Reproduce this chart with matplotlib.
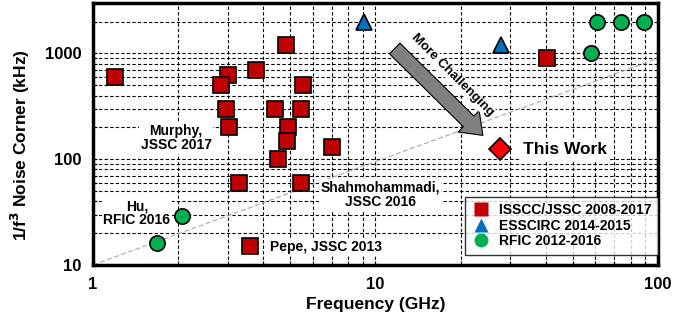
import matplotlib.pyplot as plt
from matplotlib.ticker import LogLocator, NullFormatter, FixedLocator
from matplotlib.lines import Line2D

plt.rcParams['font.family'] = ['Liberation Sans', 'DejaVu Sans']
plt.rcParams['font.weight'] = 'bold'

# ISSCC/JSSC 2008-2017 (red squares)
isscc_freq = [1.2, 3.0, 2.84, 2.95, 3.03, 3.78, 4.82, 5.54, 4.41, 5.45, 4.9, 4.87, 4.52, 7.0, 3.29, 5.45, 3.6, 40.5]
isscc_corner = [600, 630, 500, 300, 200, 700, 1200, 500, 300, 300, 200, 150, 100, 130, 60, 60, 15, 900]

# ESSCIRC 2014-2015 (blue triangles)
esscirc_freq = [9.1, 27.8]
esscirc_corner = [2000, 1200]

# RFIC 2012-2016 (green circles)
rfic_freq = [2.07, 1.69, 60.8, 74, 89, 58]
rfic_corner = [29, 16, 2000, 2000, 2000, 1000]

# This work
this_freq = [27.6]
this_corner = [125]

# reference trend line
trend_freq = [1, 100]
trend_corner = [10, 900]

fig = plt.figure(figsize=(6.97, 3.21), dpi=100)
ax = fig.add_axes([0.1334, 0.1745, 0.8106, 0.8162])
ax.set_xscale('log')
ax.set_yscale('log')
ax.set_xlim(1, 100)
ax.set_ylim(10, 3000)

ax.grid(True, which='both', color='black', linestyle=(0, (3, 2)), linewidth=0.8, zorder=0)
ax.set_axisbelow(True)

ax.plot(trend_freq, trend_corner, color='#b0b0b0', linestyle=(0, (4, 2)), linewidth=0.9, zorder=1)

ms = 11
ax.plot(isscc_freq, isscc_corner, 's', ms=ms, mfc='#C00000', mec='black', mew=1.2, zorder=5)
ax.plot(esscirc_freq, esscirc_corner, '^', ms=ms, mfc='#0070C0', mec='black', mew=1.2, zorder=5)
ax.plot(rfic_freq, rfic_corner, 'o', ms=ms, mfc='#00B050', mec='black', mew=1.2, zorder=5)
ax.plot(this_freq, this_corner, 'D', ms=11, mfc='#FF0000', mec='black', mew=1.2, zorder=5)

# arrow
ax.annotate('', xy=(24, 168), xytext=(11.7, 1114),
            arrowprops=dict(arrowstyle='simple,head_width=1.8,head_length=1.2,tail_width=0.9',
                            fc='#808080', ec='black', lw=0.8, mutation_scale=12, shrinkA=0, shrinkB=0),
            zorder=4)
ax.text(18.7, 620, 'More Challenging', rotation=-45, fontsize=9.5, fontweight='bold',
        ha='center', va='center', rotation_mode='anchor', zorder=4,
        bbox=dict(fc='white', ec='none', pad=0.5))

box = dict(fc='white', ec='none', pad=1.0)
ax.text(1.97, 158, 'Murphy,\nJSSC 2017', fontsize=10, ha='center', va='center', linespacing=1.0, bbox=box, zorder=3)
ax.text(1.43, 31, 'Hu,\nRFIC 2016', fontsize=10, ha='center', va='center', linespacing=1.0, bbox=box, zorder=3)
ax.text(10.4, 46, 'Shahmohammadi,\nJSSC 2016', fontsize=10, ha='center', va='center', linespacing=1.0, bbox=box, zorder=3)
ax.text(4.23, 14.8, 'Pepe, JSSC 2013', fontsize=10, ha='left', va='center', bbox=box, zorder=3)
ax.text(33.3, 124, 'This Work', fontsize=12.5, ha='left', va='center', bbox=dict(fc='white', ec='none', pad=2), zorder=3)

handles = [
    Line2D([], [], marker='s', ls='none', ms=10, mfc='#C00000', mec='none'),
    Line2D([], [], marker='^', ls='none', ms=10, mfc='#0070C0', mec='none'),
    Line2D([], [], marker='o', ls='none', ms=10, mfc='#00B050', mec='none'),
]
leg = ax.legend(handles, ['ISSCC/JSSC 2008-2017', 'ESSCIRC 2014-2015', 'RFIC 2012-2016'],
                loc='lower right', bbox_to_anchor=(1.0, 0.04), fontsize=10, frameon=True,
                fancybox=False, handletextpad=0.6, labelspacing=0.12, borderpad=0.45,
                handlelength=1.4, borderaxespad=0)
leg.get_frame().set_edgecolor('black')
leg.get_frame().set_linewidth(1.0)
leg.set_zorder(6)

ax.xaxis.set_major_locator(FixedLocator([1, 10, 100]))
ax.yaxis.set_major_locator(FixedLocator([10, 100, 1000]))
ax.xaxis.set_minor_locator(LogLocator(base=10, subs=range(2, 10)))
ax.yaxis.set_minor_locator(LogLocator(base=10, subs=range(2, 10)))
ax.xaxis.set_minor_formatter(NullFormatter())
ax.yaxis.set_minor_formatter(NullFormatter())
ax.set_xticklabels(['1', '10', '100'])
ax.set_yticklabels(['10', '100', '1000'])
ax.tick_params(which='both', direction='in', length=3, width=0.8, labelsize=12)
ax.tick_params(axis='x', pad=9)
ax.tick_params(axis='y', pad=8)

for s in ax.spines.values():
    s.set_linewidth(2.5)

ax.set_xlabel('Frequency (GHz)', fontsize=12.5, fontweight='bold', labelpad=3)
ax.set_ylabel('1/f$^\\mathbf{3}$ Noise Corner (kHz)', fontsize=12.5, fontweight='bold')
ax.yaxis.set_label_coords(-0.108, 0.458)

fig.savefig('out.png', dpi=100)
